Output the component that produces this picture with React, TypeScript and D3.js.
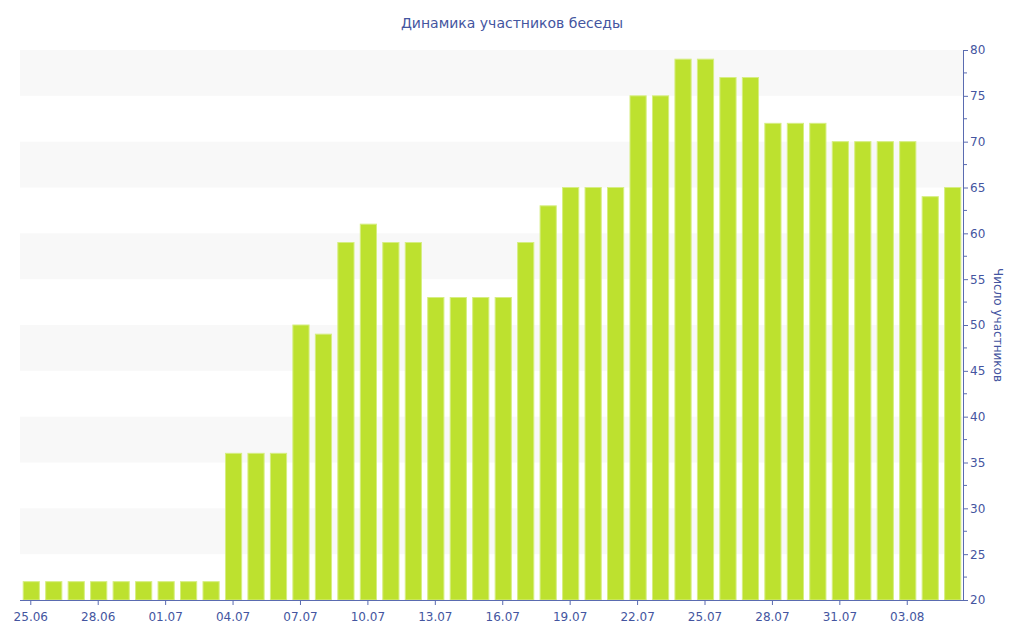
import { useEffect, useRef } from "react";
import * as d3 from "d3";

const dates = [
  "25.06", "26.06", "27.06", "28.06", "29.06", "30.06",
  "01.07", "02.07", "03.07", "04.07", "05.07", "06.07", "07.07", "08.07",
  "09.07", "10.07", "11.07", "12.07", "13.07", "14.07", "15.07", "16.07",
  "17.07", "18.07", "19.07", "20.07", "21.07", "22.07", "23.07", "24.07",
  "25.07", "26.07", "27.07", "28.07", "29.07", "30.07", "31.07",
  "01.08", "02.08", "03.08", "04.08", "05.08",
];
const members = [
  22, 22, 22, 22, 22, 22,
  22, 22, 22, 36, 36, 36, 50, 49,
  59, 61, 59, 59, 53, 53, 53, 53,
  59, 63, 65, 65, 65, 75, 75, 79,
  79, 77, 77, 72, 72, 72, 70,
  70, 70, 70, 64, 65,
];
const xTickLabels = ["25.06", "28.06", "01.07", "04.07", "07.07", "10.07", "13.07", "16.07", "19.07", "22.07", "25.07", "28.07", "31.07", "03.08"];
const yTicks = [20, 25, 30, 35, 40, 45, 50, 55, 60, 65, 70, 75, 80];

const title = "Динамика участников беседы";
const yTitle = "Число участников";

export default function App() {
  const svgRef = useRef<SVGSVGElement | null>(null);

  useEffect(() => {
    document.body.style.margin = "0";
    const width = 1024;
    const height = 640;
    const margin = { top: 50, right: 61, bottom: 40, left: 20 };
    const textColor = "#4455a0";
    const axisColor = "#5a6bb0";
    const font = "DejaVu Sans, Verdana, sans-serif";

    const svg = d3.select(svgRef.current).attr("width", width).attr("height", height);
    svg.selectAll("*").remove();

    const chartWidth = width - margin.left - margin.right;
    const chartHeight = height - margin.top - margin.bottom;
    const chart = svg.append("g").attr("transform", `translate(${margin.left}, ${margin.top})`);

    const x = d3.scaleBand().domain(dates).range([0, chartWidth]).paddingInner(0.28).paddingOuter(0.12);
    const y = d3.scaleLinear().domain([20, 80]).range([chartHeight, 0]);

    // alternating bands
    const bands = d3.range(20, 80, 5).filter((v) => (v / 5) % 2 === 1);
    chart
      .selectAll("rect.band")
      .data(bands)
      .join("rect")
      .attr("class", "band")
      .attr("x", 0)
      .attr("width", chartWidth)
      .attr("y", (d) => y(d + 5))
      .attr("height", (d) => y(d) - y(d + 5))
      .attr("fill", "#f8f8f8");

    chart
      .selectAll("rect.bar")
      .data(members)
      .join("rect")
      .attr("class", "bar")
      .attr("x", (_, i) => x(dates[i])! + 0.5)
      .attr("y", (d) => y(d))
      .attr("width", x.bandwidth())
      .attr("height", (d) => chartHeight - y(d))
      .attr("fill", "#bde12f")
      .attr("stroke", "#d6ee82")
      .attr("stroke-width", 1);

    // x axis
    const xAxis = chart
      .append("g")
      .attr("transform", `translate(0, ${chartHeight})`)
      .call(d3.axisBottom(x).tickValues(xTickLabels).tickSize(5).tickSizeOuter(0));
    xAxis.select(".domain").attr("stroke", axisColor).attr("d", `M0,0.5H${chartWidth}`);
    xAxis.selectAll(".tick line").attr("stroke", axisColor);
    xAxis
      .selectAll(".tick text")
      .attr("fill", textColor)
      .attr("font-family", font)
      .attr("font-size", 12)
      .attr("dy", "1.1em");

    // y axis (right)
    const yAxis = chart
      .append("g")
      .attr("transform", `translate(${chartWidth}, 0)`)
      .call(d3.axisRight(y).tickValues(yTicks).tickSize(5).tickSizeOuter(0).tickPadding(2));
    yAxis.select(".domain").attr("stroke", axisColor);
    yAxis.selectAll(".tick line").attr("stroke", axisColor);
    yAxis
      .selectAll(".tick text")
      .attr("fill", textColor)
      .attr("font-family", font)
      .attr("font-size", 12);

    const minor = d3.range(22.5, 80, 5);
    chart
      .append("g")
      .selectAll("line")
      .data(minor)
      .join("line")
      .attr("x1", chartWidth)
      .attr("x2", chartWidth + 4)
      .attr("y1", (d) => y(d))
      .attr("y2", (d) => y(d))
      .attr("stroke", axisColor);

    svg
      .append("text")
      .attr("x", 512)
      .attr("y", 28)
      .attr("text-anchor", "middle")
      .attr("fill", textColor)
      .attr("font-family", font)
      .attr("font-size", 14)
      .text(title);

    svg
      .append("text")
      .attr("transform", `translate(994, ${margin.top + chartHeight / 2}) rotate(90)`)
      .attr("text-anchor", "middle")
      .attr("fill", textColor)
      .attr("font-family", font)
      .attr("font-size", 12)
      .text(yTitle);
  }, []);

  return <svg ref={svgRef}></svg>;
}
